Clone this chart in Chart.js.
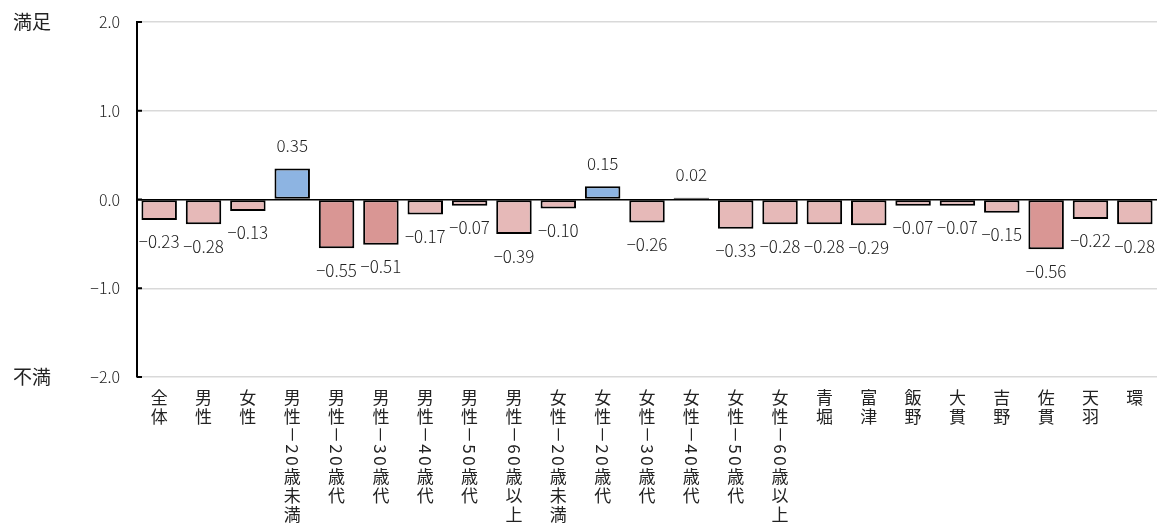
<!DOCTYPE html>
<html><head><meta charset="utf-8">
<script src="https://cdn.jsdelivr.net/npm/chart.js@4"></script>
<style>html,body{margin:0;padding:0;background:#fff}#wrap{width:1157px;height:528px;position:relative}</style>
</head><body><div id="wrap"><canvas id="c"></canvas></div>
<script>
const categories = ['全体','男性','女性','男性-20歳未満','男性-20歳代','男性-30歳代','男性-40歳代','男性-50歳代','男性-60歳以上','女性-20歳未満','女性-20歳代','女性-30歳代','女性-40歳代','女性-50歳代','女性-60歳以上','青堀','富津','飯野','大貫','吉野','佐貫','天羽','環'];
const values = [-0.23,-0.28,-0.13,0.35,-0.55,-0.51,-0.17,-0.07,-0.39,-0.10,0.15,-0.26,0.02,-0.33,-0.28,-0.28,-0.29,-0.07,-0.07,-0.15,-0.56,-0.22,-0.28];
const yMin = -2, yMax = 2, yStep = 1;
const yTopLabel = '満足';
const yBottomLabel = '不満';

const FONT = '"Noto Sans CJK JP", "Noto Sans", sans-serif';
const fmt = (v, d) => (v < 0 ? '\u2212' : '') + Math.abs(v).toFixed(d);
const colorFor = v => v > 0 ? '#8DB4E2' : (v <= -0.5 ? '#D99694' : '#E6B9B8');

const extras = {
  id: 'extras',
  afterDatasetsDraw(chart) {
    const ctx = chart.ctx;
    const meta = chart.getDatasetMeta(0);
    ctx.save();
    ctx.font = '300 17px ' + FONT;
    ctx.fillStyle = '#222';
    ctx.textAlign = 'center';
    ctx.textBaseline = 'middle';
    meta.data.forEach((el, i) => {
      const v = values[i];
      const y = v >= 0 ? el.y - 23 : el.y + 22;
      ctx.fillText(fmt(v, 2), el.x, y);
    });
    ctx.restore();
  },
  afterDraw(chart) {
    const ctx = chart.ctx;
    const xs = chart.scales.x, ys = chart.scales.y;
    const area = chart.chartArea;
    ctx.save();
    // y tick marks
    ctx.strokeStyle = '#000';
    ctx.lineWidth = 2;
    ys.ticks.forEach(t => {
      const y = ys.getPixelForValue(t.value);
      ctx.beginPath(); ctx.moveTo(area.left, y); ctx.lineTo(area.left + 5, y); ctx.stroke();
    });
    // axis end labels
    ctx.fillStyle = '#222';
    ctx.font = '19px ' + FONT;
    ctx.textAlign = 'center';
    ctx.textBaseline = 'middle';
    ctx.fillText(yTopLabel, 32, ys.getPixelForValue(yMax));
    ctx.fillText(yBottomLabel, 32, ys.getPixelForValue(yMin));
    // vertical category labels
    const fs = 17, step = 19;
    ctx.font = fs + 'px ' + FONT;
    categories.forEach((lab, i) => {
      const x = xs.getPixelForValue(i);
      let y = area.bottom + 11;
      const runs = lab.match(/[\x00-\x7F]+|[^\x00-\x7F]/g);
      runs.forEach(r => {
        if (/^[\x00-\x7F]+$/.test(r)) {
          const txt = r.replace(/-/g, '\uFF0D');
          ctx.save();
          ctx.translate(x, y);
          ctx.rotate(Math.PI / 2);
          ctx.textAlign = 'left';
          ctx.textBaseline = 'middle';
          let off = 0;
          for (const ch of txt) {
            const w = ctx.measureText(ch).width;
            const adv = ch === '\uFF0D' ? 17 : Math.max(w, 12);
            ctx.fillText(ch, off + (adv - w) / 2, 0);
            off += adv;
          }
          ctx.restore();
          y += off;
        } else {
          ctx.textAlign = 'center';
          ctx.textBaseline = 'middle';
          ctx.fillText(r, x, y + step / 2);
          y += step;
        }
      });
    });
    ctx.restore();
  }
};

new Chart(document.getElementById('c'), {
  type: 'bar',
  data: {
    labels: categories,
    datasets: [{
      data: values,
      backgroundColor: values.map(colorFor),
      borderColor: '#000',
      borderWidth: 2,
      borderSkipped: false,
      barPercentage: 0.8,
      categoryPercentage: 1.0
    }]
  },
  options: {
    responsive: true,
    maintainAspectRatio: false,
    animation: false,
    devicePixelRatio: 1,
    layout: { padding: { top: 22, right: 0, left: 0, bottom: 0 } },
    plugins: { legend: { display: false }, tooltip: { enabled: false } },
    scales: {
      x: {
        grid: { display: false },
        border: { display: false },
        ticks: { display: false },
        afterFit: s => { s.height = 151; s.paddingLeft = 0; s.paddingRight = 0; }
      },
      y: {
        min: yMin, max: yMax,
        ticks: {
          stepSize: yStep,
          padding: 17,
          color: '#222',
          font: { size: 16, family: FONT, weight: '300' },
          callback: v => fmt(v, 1)
        },
        grid: {
          drawTicks: false,
          color: c => c.tick && c.tick.value === 0 ? '#000' : '#d9d9d9',
          lineWidth: 1.5
        },
        border: { color: '#000', width: 2 },
        afterFit: s => { s.width = 137; s.paddingTop = 0; s.paddingBottom = 0; }
      }
    }
  },
  plugins: [extras]
});
</script>
</body></html>
